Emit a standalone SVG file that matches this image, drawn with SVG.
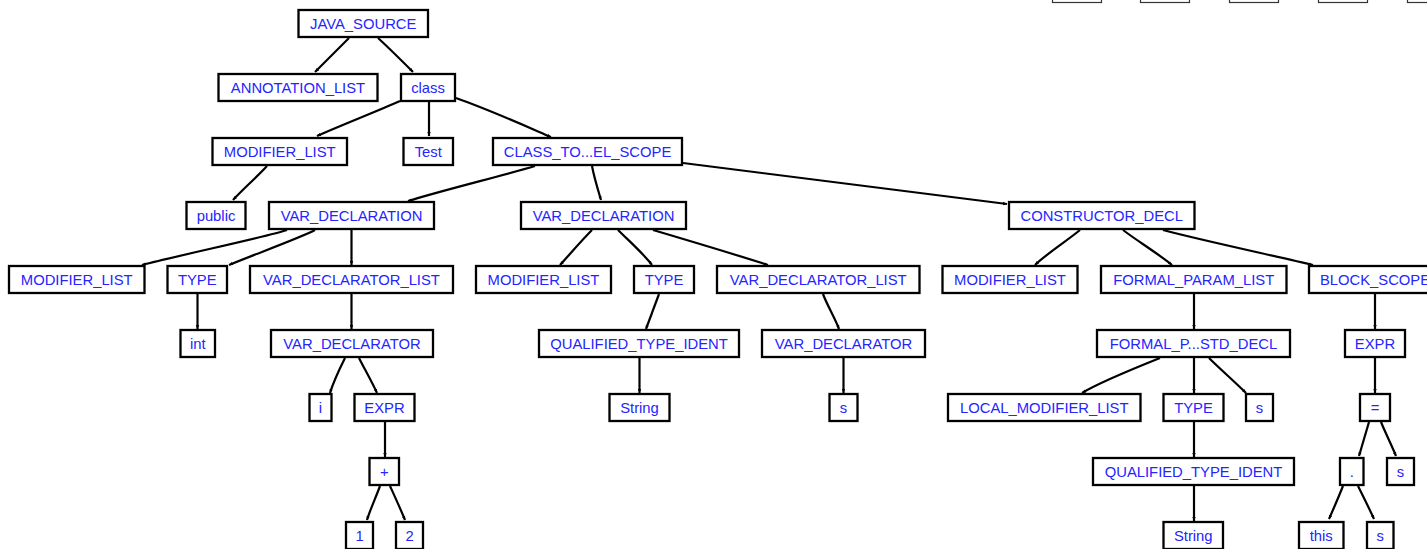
<svg xmlns="http://www.w3.org/2000/svg" width="1427" height="549" viewBox="0 0 1427 549">
<defs>
<style>
.n rect{fill:#fff;stroke:#000;stroke-width:2.3}
.n text{font-family:"Liberation Sans",Arial,sans-serif;font-size:14.8px;fill:#2424ff;text-anchor:middle}
.g rect{fill:#fff;stroke:#333;stroke-width:1.2}
#edges path{fill:none;stroke:#000;stroke-width:2.2;marker-end:url(#ah)}
</style>
<marker id="ah" markerUnits="userSpaceOnUse" markerWidth="6" markerHeight="6" refX="4" refY="2.5" orient="auto">
<path d="M0,0.8 L4,2.5 L0,4.2 z" fill="#000"/>
</marker>
</defs>
<rect width="1427" height="549" fill="#fff"/>
<g id="edges">
<path d="M349,38 C340,47 324,63 315,72"/>
<path d="M378,38 C388,47 404,63 413,72"/>
<path d="M400,101 C380,110 337,127 317,136"/>
<path d="M429,102 L429,136"/>
<path d="M456,98 C490,110 530,128 551,137"/>
<path d="M267,166 C257,177 243,189 233,200"/>
<path d="M535,166 C505,175 440,191 408,201"/>
<path d="M592,166 C594,177 598,190 601,200"/>
<path d="M683,163 L1007,204"/>
<path d="M287,230 C270,236 180,255 142,265"/>
<path d="M315,230 C300,238 250,256 229,265"/>
<path d="M351.5,230 L351.5,265"/>
<path d="M592,230 C582,240 570,254 560,265"/>
<path d="M618,230 C628,240 642,252 652,265"/>
<path d="M653,230 C680,238 740,256 768,265"/>
<path d="M1080,230 C1068,240 1045,255 1035,265"/>
<path d="M1123,230 C1136,240 1160,255 1172,265"/>
<path d="M1163,230 C1200,240 1280,257 1313,265"/>
<path d="M197.5,294 L197.5,329"/>
<path d="M351.5,294 L351.5,329"/>
<path d="M659,294 C655,305 650,318 646,329"/>
<path d="M823,294 C827,305 835,318 839,329"/>
<path d="M1194,294 L1194,329"/>
<path d="M1375,294 L1375,329"/>
<path d="M345,358 C340,368 334,380 330,393"/>
<path d="M359,358 C364,368 372,382 377,393"/>
<path d="M639.5,358 L639.5,393"/>
<path d="M843.5,358 L843.5,393"/>
<path d="M1160,358 C1140,366 1100,382 1082,393"/>
<path d="M1194,358 L1194,393"/>
<path d="M1209,358 C1220,369 1235,382 1246,393"/>
<path d="M1375,358 L1375,393"/>
<path d="M385,422 L385,457"/>
<path d="M1194,422 L1194,457"/>
<path d="M1369,422 C1366,432 1362,446 1359,456"/>
<path d="M1381,422 C1385,432 1392,446 1396,456"/>
<path d="M380,486 C376,497 370,510 367,520"/>
<path d="M390,486 C395,497 401,510 405,520"/>
<path d="M1194,486 L1194,521"/>
<path d="M1343,486 C1339,496 1333,510 1329,519"/>
<path d="M1358,486 C1363,496 1370,510 1374,519"/>
</g>
<g id="top1" class="g"><rect x="1052.5" y="-25" width="49" height="27.5"/></g>
<g id="top2" class="g"><rect x="1140.5" y="-25" width="49" height="27.5"/></g>
<g id="top3" class="g"><rect x="1229.5" y="-25" width="49" height="27.5"/></g>
<g id="top4" class="g"><rect x="1318.5" y="-25" width="49" height="27.5"/></g>
<g id="top5" class="g"><rect x="1407.5" y="-25" width="49" height="27.5"/></g>
<g id="n1" class="n"><rect x="298.5" y="10" width="129.5" height="27"/><text x="363.25" y="28.5">JAVA_SOURCE</text></g>
<g id="n2" class="n"><rect x="218.5" y="74" width="159" height="27"/><text x="298" y="92.5">ANNOTATION_LIST</text></g>
<g id="n3" class="n"><rect x="401" y="74" width="54" height="27"/><text x="428" y="92.5">class</text></g>
<g id="n4" class="n"><rect x="212.5" y="138" width="134.5" height="27"/><text x="279.75" y="156.5">MODIFIER_LIST</text></g>
<g id="n5" class="n"><rect x="403.5" y="138" width="49.5" height="27"/><text x="428.25" y="156.5">Test</text></g>
<g id="n6" class="n"><rect x="493" y="138" width="189" height="27"/><text x="587.5" y="156.5">CLASS_TO...EL_SCOPE</text></g>
<g id="n7" class="n"><rect x="186.5" y="202" width="59" height="27"/><text x="216" y="220.5">public</text></g>
<g id="n8" class="n"><rect x="269" y="202" width="165" height="27"/><text x="351.5" y="220.5">VAR_DECLARATION</text></g>
<g id="n9" class="n"><rect x="521" y="202" width="165" height="27"/><text x="603.5" y="220.5">VAR_DECLARATION</text></g>
<g id="n10" class="n"><rect x="1009" y="202" width="185.5" height="27"/><text x="1101.75" y="220.5">CONSTRUCTOR_DECL</text></g>
<g id="n11" class="n"><rect x="9" y="266" width="135.5" height="27"/><text x="76.75" y="284.5">MODIFIER_LIST</text></g>
<g id="n12" class="n"><rect x="167.5" y="266" width="59.5" height="27"/><text x="197.25" y="284.5">TYPE</text></g>
<g id="n13" class="n"><rect x="250" y="266" width="203" height="27"/><text x="351.5" y="284.5">VAR_DECLARATOR_LIST</text></g>
<g id="n14" class="n"><rect x="476" y="266" width="135" height="27"/><text x="543.5" y="284.5">MODIFIER_LIST</text></g>
<g id="n15" class="n"><rect x="634" y="266" width="60" height="27"/><text x="664" y="284.5">TYPE</text></g>
<g id="n16" class="n"><rect x="717" y="266" width="202.5" height="27"/><text x="818.25" y="284.5">VAR_DECLARATOR_LIST</text></g>
<g id="n17" class="n"><rect x="942.5" y="266" width="135" height="27"/><text x="1010" y="284.5">MODIFIER_LIST</text></g>
<g id="n18" class="n"><rect x="1101" y="266" width="185.5" height="27"/><text x="1193.75" y="284.5">FORMAL_PARAM_LIST</text></g>
<g id="n19" class="n"><rect x="1309" y="266" width="132" height="27"/><text x="1375" y="284.5">BLOCK_SCOPE</text></g>
<g id="n20" class="n"><rect x="180.5" y="330" width="34.5" height="27"/><text x="197.75" y="348.5">int</text></g>
<g id="n21" class="n"><rect x="271" y="330" width="162" height="27"/><text x="352" y="348.5">VAR_DECLARATOR</text></g>
<g id="n22" class="n"><rect x="539" y="330" width="200" height="27"/><text x="639" y="348.5">QUALIFIED_TYPE_IDENT</text></g>
<g id="n23" class="n"><rect x="762" y="330" width="163" height="27"/><text x="843.5" y="348.5">VAR_DECLARATOR</text></g>
<g id="n24" class="n"><rect x="1097" y="330" width="193" height="27"/><text x="1193.5" y="348.5">FORMAL_P...STD_DECL</text></g>
<g id="n25" class="n"><rect x="1345" y="330" width="60" height="27"/><text x="1375" y="348.5">EXPR</text></g>
<g id="n26" class="n"><rect x="309.5" y="394" width="22" height="27"/><text x="320.5" y="412.5">i</text></g>
<g id="n27" class="n"><rect x="354.5" y="394" width="60" height="27"/><text x="384.5" y="412.5">EXPR</text></g>
<g id="n28" class="n"><rect x="609.5" y="394" width="60" height="27"/><text x="639.5" y="412.5">String</text></g>
<g id="n29" class="n"><rect x="829.5" y="394" width="28" height="27"/><text x="843.5" y="412.5">s</text></g>
<g id="n30" class="n"><rect x="948" y="394" width="192.5" height="27"/><text x="1044.25" y="412.5">LOCAL_MODIFIER_LIST</text></g>
<g id="n31" class="n"><rect x="1163.5" y="394" width="60" height="27"/><text x="1193.5" y="412.5">TYPE</text></g>
<g id="n32" class="n"><rect x="1246" y="394" width="27" height="27"/><text x="1259.5" y="412.5">s</text></g>
<g id="n33" class="n"><rect x="1360" y="394" width="30" height="27"/><text x="1375" y="412.5">=</text></g>
<g id="n34" class="n"><rect x="369.5" y="458" width="29.5" height="27"/><text x="384.25" y="476.5">+</text></g>
<g id="n35" class="n"><rect x="1093" y="458" width="201" height="27"/><text x="1193.5" y="476.5">QUALIFIED_TYPE_IDENT</text></g>
<g id="n36" class="n"><rect x="1340" y="458" width="23.5" height="27"/><text x="1351.75" y="476.5">.</text></g>
<g id="n37" class="n"><rect x="1387" y="458" width="27" height="27"/><text x="1400.5" y="476.5">s</text></g>
<g id="n38" class="n"><rect x="346" y="522" width="27" height="27"/><text x="359.5" y="540.5">1</text></g>
<g id="n39" class="n"><rect x="396" y="522" width="27" height="27"/><text x="409.5" y="540.5">2</text></g>
<g id="n40" class="n"><rect x="1163.5" y="522" width="59.5" height="27"/><text x="1193.25" y="540.5">String</text></g>
<g id="n41" class="n"><rect x="1299" y="522" width="44.5" height="27"/><text x="1321.25" y="540.5">this</text></g>
<g id="n42" class="n"><rect x="1367" y="522" width="26.5" height="27"/><text x="1380.25" y="540.5">s</text></g>
</svg>
